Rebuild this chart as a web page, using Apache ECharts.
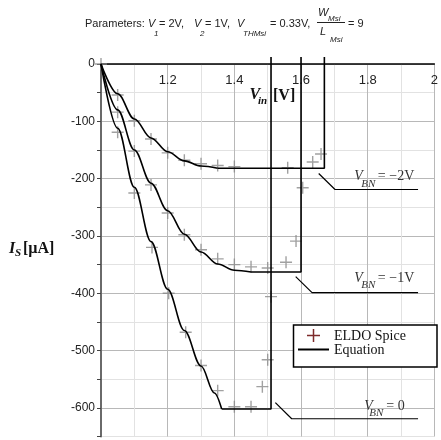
<!DOCTYPE html>
<html>
<head>
<meta charset="utf-8">
<script src="https://cdn.jsdelivr.net/npm/echarts@6/dist/echarts.min.js"></script>
<style>
html,body{margin:0;padding:0;background:#fff;}
#c{width:441px;height:440px;}
</style>
</head>
<body>
<div id="c"></div>
<script>
// ---- data ----
const spiceVbnM2 = [[1.00,0],[1.05,-54],[1.10,-99],[1.15,-131],[1.20,-155],[1.25,-168],[1.30,-174],[1.35,-177],[1.40,-179],[1.56,-181],[1.635,-171],[1.66,-157]];
const spiceVbnM1 = [[1.05,-84],[1.10,-152],[1.15,-211],[1.20,-260],[1.25,-298],[1.30,-324],[1.35,-340],[1.40,-350],[1.45,-354],[1.50,-356],[1.555,-346],[1.585,-309],[1.605,-216]];
const spiceVbn0  = [[1.05,-119],[1.10,-225],[1.153,-320],[1.203,-400],[1.254,-468],[1.30,-526],[1.35,-570],[1.40,-598],[1.45,-598],[1.484,-563],[1.50,-516],[1.51,-406]];

const eqCurveM2 = [[1.00,0],[1.05,-52],[1.10,-96],[1.15,-129],[1.20,-153],[1.25,-169],[1.30,-178],[1.35,-182]];
const eqStepM2  = [[1.35,-182],[1.67,-182],[1.67,12]];
const eqCurveM1 = [[1.00,0],[1.05,-80],[1.10,-150],[1.15,-208],[1.20,-256],[1.25,-297],[1.30,-328],[1.35,-349],[1.40,-360],[1.45,-363]];
const eqStepM1  = [[1.45,-363],[1.60,-363],[1.60,12]];
const eqCurve0  = [[1.00,0],[1.05,-112],[1.10,-215],[1.15,-310],[1.20,-393],[1.25,-465],[1.30,-527],[1.34,-574],[1.362,-602]];
const eqStep0   = [[1.362,-602],[1.51,-602],[1.51,12]];

// annotation leaders (data coords)
const leaderM2 = [[1.653,-191],[1.702,-219],[1.951,-219]];
const leaderM1 = [[1.584,-371],[1.633,-399],[1.951,-399]];
const leader0  = [[1.523,-591],[1.572,-619],[1.951,-619]];
const labelAnchors = [
  {at:[1.760,-196], sub:'BN', subDx:7, rest:'= \u22122V', restDx:23.5},
  {at:[1.760,-373.5], sub:'BN', subDx:7, rest:'= \u22121V', restDx:23.5},
  {at:[1.790,-596.5], sub:'BN', subDx:5, rest:'= 0', restDx:22}
];

const xTickLabels = {12:'1.2',14:'1.4',16:'1.6',18:'1.8',20:'2'};

const SANS = '"Liberation Sans", Arial, sans-serif';
const SERIF = '"Liberation Serif", "Times New Roman", serif';
const PLUS = 'path://M5.3,0h1.4v5.3h5.3v1.4h-5.3v5.3h-1.4v-5.3h-5.3v-1.4h5.3z';

const chart = echarts.init(document.getElementById('c'), null, {renderer:'canvas'});

function lineSeries(data, smooth){
  const s = {type:'line', data, symbol:'none', smooth: smooth ? 0.35 : false, clip:false,
    lineStyle:{color:'#000', width:1.6}, silent:true, z:3};
  if (smooth) s.smoothMonotone = 'x';
  return s;
}
function spiceSeries(data){
  return {type:'scatter', data, symbol:PLUS, symbolSize:12, clip:false,
    itemStyle:{color:'#8a8a8a'}, silent:true, z:2};
}
function leaderSeries(data){
  return {type:'line', data, symbol:'none', lineStyle:{color:'#000', width:1.2}, silent:true, z:3, clip:false};
}

chart.setOption({
  animation:false,
  grid:{left:101, top:64, width:338.5, height:372.5},
  xAxis:{
    type:'value', min:1, max:2, interval:0.1, position:'top',
    axisLine:{onZero:false, lineStyle:{color:'#000', width:1.5}},
    axisTick:{show:false},
    axisLabel:{inside:true, margin:10, color:'#222', fontSize:13, fontFamily:SANS, alignMaxLabel:'center',
      formatter:v=>{const k=Math.round(v*10); return xTickLabels[k]||'';}},
    splitLine:{show:true, lineStyle:{color:['#b8b8b8','#e2e2e2'], width:1}}
  },
  yAxis:{
    type:'value', min:-650, max:0, interval:50,
    axisLine:{onZero:false, lineStyle:{color:'#6a6a6a', width:2}},
    axisTick:{show:true, length:4, lineStyle:{color:'#444'}},
    axisLabel:{margin:6, color:'#222', fontSize:12, fontFamily:SANS,
      formatter:v=>{const r=Math.round(v); return (r%100===0)? String(r):'';}},
    splitLine:{show:true, lineStyle:{color:['#e2e2e2','#b8b8b8'], width:1}}
  },
  series:[
    spiceSeries(spiceVbnM2), spiceSeries(spiceVbnM1), spiceSeries(spiceVbn0),
    lineSeries(eqCurveM2,true), lineSeries(eqStepM2,false),
    lineSeries(eqCurveM1,true), lineSeries(eqStepM1,false),
    lineSeries(eqCurve0,true), lineSeries(eqStep0,false),
    leaderSeries(leaderM2), leaderSeries(leaderM1), leaderSeries(leader0)
  ]
});

function T(text, x, y, font, fill){
  return {type:'text', x, y, silent:true, z:10,
    style:{text, font, fill: fill||'#222', align:'left', verticalAlign:'middle'}};
}
function L(x1,y1,x2,y2,stroke,w,z){
  return {type:'line', silent:true, z:z||10, shape:{x1,y1,x2,y2}, style:{stroke, lineWidth:w}};
}

const g = [];
// title
const tf = '11px ' + SANS, ti = 'italic 11px ' + SANS, ts = 'italic 8px ' + SANS;
g.push(T('Parameters:', 85, 24, tf));
g.push(T('V', 148, 24, ti)); g.push(T('1', 154, 33.5, ts)); g.push(T('= 2V,', 159, 24, tf));
g.push(T('V', 194, 24, ti)); g.push(T('2', 200, 33.5, ts)); g.push(T('= 1V,', 205, 24, tf));
g.push(T('V', 237, 24, ti)); g.push(T('THMsi', 243, 33.5, ts)); g.push(T('= 0.33V,', 270, 24, tf));
g.push(T('W', 318, 13, ti)); g.push(T('Msi', 328, 18.5, ts));
g.push(L(317,22.5,345,22.5,'#222',1));
g.push(T('L', 320, 32, ti)); g.push(T('Msi', 330, 39.5, ts));
g.push(T('= 9', 348, 24, tf));

// axis names
g.push(T('I', 9, 249, 'italic bold 16px ' + SERIF, '#111'));
g.push(T('S', 15, 253.5, 'italic bold 11px ' + SERIF, '#111'));
g.push(T('[\u00b5A]', 23, 249, 'bold 16px ' + SERIF, '#111'));
g.push(T('V', 249.5, 95, 'italic bold 16px ' + SERIF, '#111'));
g.push(T('in', 258, 101, 'italic bold 11px ' + SERIF, '#111'));
g.push(T('[V]', 273, 96, 'bold 16px ' + SERIF, '#111'));

// annotation labels
labelAnchors.forEach(a=>{
  const p = chart.convertToPixel({gridIndex:0}, a.at);
  g.push(T('V', p[0], p[1], 'italic 14px ' + SERIF, '#333'));
  g.push(T(a.sub, p[0]+a.subDx, p[1]+7.5, 'italic 11px ' + SERIF, '#333'));
  g.push(T(a.rest, p[0]+a.restDx, p[1], '14px ' + SERIF, '#333'));
});

// legend
g.push({type:'rect', silent:true, z:9, shape:{x:293.5,y:325,width:143.5,height:42}, style:{fill:'#fff', stroke:'#000', lineWidth:1.5}});
g.push(L(313.5,329,313.5,342,'#7d2b2b',1.5));
g.push(L(307,335.5,320,335.5,'#7d2b2b',1.5));
g.push(T('ELDO Spice', 334, 336, '14px ' + SERIF, '#111'));
g.push(L(298,349.5,329,349.5,'#000',2));
g.push(T('Equation', 334, 350.5, '14px ' + SERIF, '#111'));

chart.setOption({graphic:g});
</script>
</body>
</html>
